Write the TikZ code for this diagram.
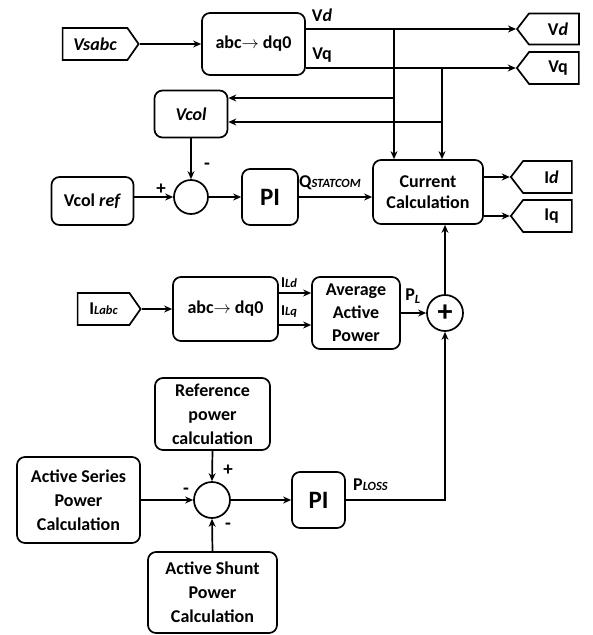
\documentclass[tikz,border=0pt]{standalone}
\usepackage{fontspec}
\setmainfont{Carlito}
\usetikzlibrary{shapes.symbols,arrows.meta}
\tikzset{
  lw/.style={line width=1.7pt},
  blk/.style={lw, draw, rounded corners=8pt, align=center, inner sep=1pt,
    font=\fontsize{18}{24}\selectfont\bfseries},
  pibox/.style={blk, font=\fontsize{25}{25}\selectfont\bfseries},
  tagin/.style={lw, draw, signal, signal to=east, signal pointer angle=110, inner sep=0pt,
    font=\fontsize{18}{18}\selectfont\bfseries},
  tagout/.style={lw, draw, signal, signal to=west, signal pointer angle=105, inner sep=0pt,
    font=\fontsize{18}{18}\selectfont\bfseries},
  sumc/.style={lw, draw, circle, inner sep=0pt},
  arr/.style={lw, -{Stealth[length=8pt,width=7pt]}},
  wire/.style={lw},
  lbl/.style={inner sep=0pt, font=\fontsize{18}{18}\selectfont\bfseries},
  sgn/.style={inner sep=0pt, font=\fontsize{19}{19}\selectfont\bfseries}
}
\newcommand{\smallsub}[1]{{\fontsize{12.5}{12.5}\selectfont\itshape #1}}
\begin{document}
\begin{tikzpicture}[x=1pt,y=-1pt]
\useasboundingbox (0,0) rectangle (593,635);
% top row
\node[tagin, minimum width=76pt, minimum height=32pt] (vsabc) at (95,44) {\itshape Vsabc\hspace{8pt}};
\node[blk, minimum width=103pt, minimum height=62pt] (abc1) at (253.5,44) {abc$\rightarrow$ dq0};
\node[tagout, minimum width=62pt, minimum height=31pt] (vdtag) at (554,29) {\hspace{8pt}V\textit{d}};
\node[tagout, minimum width=62pt, minimum height=32pt] (vqtag) at (554,68) {\hspace{8pt}Vq};
\node[blk, minimum width=73pt, minimum height=47pt] (vcol) at (191,114) {\itshape Vcol};
\node[sumc, minimum size=34pt] (sum1) at (191,197) {};
\node[blk, minimum width=82pt, minimum height=48pt] (vcolref) at (92.5,201) {Vcol \textit{ref}};
\node[pibox, minimum width=56pt, minimum height=56pt] (pi1) at (270,197) {PI};
\node[blk, minimum width=110pt, minimum height=64pt] (cc) at (428,192) {Current\\[-3pt]Calculation};
\node[tagout, minimum width=61pt, minimum height=32pt] (idtag) at (547.5,177) {\hspace{8pt}I\textit{d}};
\node[tagout, minimum width=61pt, minimum height=32pt] (iqtag) at (547.5,216) {\hspace{8pt}Iq};
% middle row
\node[tagin, minimum width=63pt, minimum height=32pt] (ilabc) at (103.5,309) {I\smallsub{Labc}\hspace{8pt}};
\node[blk, minimum width=105pt, minimum height=64pt] (abc2) at (225.5,309) {abc$\rightarrow$ dq0};
\node[blk, minimum width=88pt, minimum height=72pt] (aap) at (356,313) {Average\\[-1pt]Active\\[-1pt]Power};
\node[sumc, minimum size=36pt, font=\fontsize{30}{30}\selectfont\bfseries] (plus) at (445,313) {\raisebox{-1pt}{+}};
% bottom row
\node[blk, minimum width=115pt, minimum height=72pt] (refp) at (212.5,414) {Reference\\power\\calculation};
\node[sumc, minimum size=36pt] (sum2) at (212,500) {};
\node[blk, minimum width=123pt, minimum height=86pt] (aser) at (78.5,500) {Active Series\\Power\\Calculation};
\node[blk, minimum width=129pt, minimum height=81pt] (ashunt) at (212.5,592.5) {Active Shunt\\Power\\Calculation};
\node[pibox, minimum width=53pt, minimum height=56pt] (pi2) at (318.5,500) {PI};
% junction coordinates
\coordinate (jd) at (394,29);
\coordinate (jq) at (442,68);
\coordinate (ya) at (0,98);
\coordinate (yb) at (0,122);
\coordinate (ild) at (0,293);
\coordinate (ilq) at (0,325);
% connectors top
\draw[arr] (vsabc.east) -- (abc1.west);
\draw[arr] (abc1.east |- vdtag.west) -- (vdtag.west);
\draw[arr] (abc1.east |- vqtag.west) -- (vqtag.west);
\draw[arr] (jd) -- (jd |- cc.north);
\draw[arr] (jq) -- (jq |- cc.north);
\draw[arr] (jd |- ya) -- (vcol.east |- ya);
\draw[arr] (jq |- yb) -- (vcol.east |- yb);
\draw[arr] (vcol.south) -- (sum1.north);
\draw[arr] (vcolref.east |- sum1.west) -- (sum1.west);
\draw[arr] (sum1.east) -- (pi1.west |- sum1.east);
\draw[arr] (pi1.east) -- (cc.west |- pi1.east);
\draw[arr] (cc.east |- idtag.west) -- (idtag.west);
\draw[arr] (cc.east |- iqtag.west) -- (iqtag.west);
% connectors middle
\draw[arr] (ilabc.east) -- (abc2.west);
\draw[arr] (abc2.east |- ild) -- (aap.west |- ild);
\draw[arr] (abc2.east |- ilq) -- (aap.west |- ilq);
\draw[arr] (aap.east |- plus.west) -- (plus.west);
\draw[arr] (plus.north) -- (plus.north |- cc.south);
% connectors bottom
\draw[arr] (refp.south) -- (sum2.north);
\draw[arr] (aser.east |- sum2.west) -- (sum2.west);
\draw[arr] (ashunt.north) -- (sum2.south);
\draw[arr] (sum2.east) -- (pi2.west |- sum2.east);
\draw[arr] (pi2.east) -| (plus.south);
% labels
\node[lbl] (lvd) at (322,15) {V\textit{d}};
\node[lbl] (lvq) at (322,55) {Vq};
\node[sgn] (s1p) at (161,189) {+};
\node[sgn] (s1m) at (207,166) {-};
\node[lbl, anchor=west] (lq) at (299,183) {Q\smallsub{STATCOM}};
\node[lbl, anchor=west, font=\fontsize{15}{15}\selectfont\bfseries] (lild) at (281,283) {I\smallsub{Ld}};
\node[lbl, anchor=west, font=\fontsize{15}{15}\selectfont\bfseries] (lilq) at (281,312) {I\smallsub{Lq}};
\node[lbl] (lpl) at (413,296) {P\textsubscript{\itshape L}};
\node[sgn] (s2p) at (228,470) {+};
\node[sgn] (s2l) at (186,491) {-};
\node[sgn] (s2b) at (228,526) {-};
\node[lbl, anchor=west] (lploss) at (353,485) {P\smallsub{LOSS}};
\end{tikzpicture}
\end{document}
